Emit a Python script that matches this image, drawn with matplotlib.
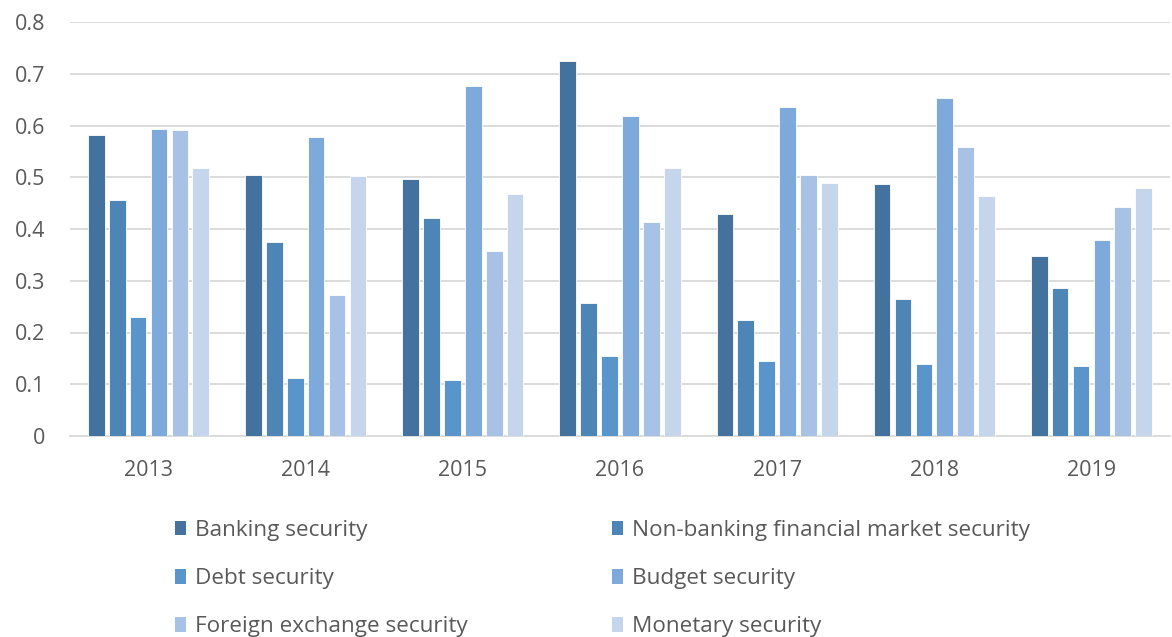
import matplotlib
matplotlib.use("Agg")
import matplotlib.pyplot as plt
import numpy as np
from matplotlib.patches import Patch

years = ["2013", "2014", "2015", "2016", "2017", "2018", "2019"]
series_names = ["Banking security", "Non-banking financial market security", "Debt security",
                "Budget security", "Foreign exchange security", "Monetary security"]
banking = [0.581, 0.504, 0.497, 0.725, 0.429, 0.487, 0.348]
non_banking = [0.457, 0.375, 0.421, 0.257, 0.224, 0.265, 0.286]
debt = [0.229, 0.112, 0.108, 0.155, 0.144, 0.139, 0.135]
budget = [0.594, 0.578, 0.676, 0.619, 0.635, 0.653, 0.379]
foreign_exchange = [0.591, 0.272, 0.357, 0.413, 0.504, 0.558, 0.443]
monetary = [0.517, 0.502, 0.468, 0.517, 0.489, 0.464, 0.479]
yticks = [0, 0.1, 0.2, 0.3, 0.4, 0.5, 0.6, 0.7, 0.8]
ytick_labels = ["0", "0.1", "0.2", "0.3", "0.4", "0.5", "0.6", "0.7", "0.8"]

series = [banking, non_banking, debt, budget, foreign_exchange, monetary]
colors = ["#43729E", "#4D85B7", "#5995CB", "#7DAADA", "#A7C2E4", "#C5D5EB"]
text_color = "#595959"
font = "Open Sans"

fig = plt.figure(figsize=(11.72, 6.37), dpi=100)
ax = fig.add_axes([70 / 1172, 201 / 637, 1100 / 1172, 414 / 637])

x = np.arange(len(years))
step = 0.133
width = 0.106
for i, (vals, c) in enumerate(zip(series, colors)):
    ax.bar(x + (i - 2.5) * step, vals, width=width, color=c, edgecolor="white",
           linewidth=0.6, zorder=3)

ax.set_xlim(-0.5, 6.5)
ax.set_ylim(0, 0.8)
ax.set_yticks(yticks)
ax.set_yticklabels(ytick_labels)
ax.set_xticks(x)
ax.set_xticklabels(years)
ax.grid(axis="y", color="#D9D9D9", linewidth=1.3, zorder=0)
ax.set_axisbelow(True)
for s in ["top", "right", "left"]:
    ax.spines[s].set_visible(False)
ax.spines["bottom"].set_color("#D9D9D9")
ax.spines["bottom"].set_linewidth(1.3)
ax.tick_params(axis="both", length=0, labelsize=15.5, labelcolor=text_color)
ax.tick_params(axis="x", pad=17)
ax.tick_params(axis="y", pad=18)
for lab in ax.get_xticklabels() + ax.get_yticklabels():
    lab.set_fontfamily(font)

handles = [Patch(facecolor=c, edgecolor="none") for c in colors]
leg_kw = dict(frameon=False, labelcolor=text_color, handlelength=0.5,
              handleheight=0.62, handletextpad=0.4, labelspacing=1.21,
              prop={"family": font, "size": 16.2}, borderaxespad=0, borderpad=0,
              loc="upper left")
fig.legend([handles[0], handles[2], handles[4]],
           [series_names[0], series_names[2], series_names[4]],
           bbox_to_anchor=(175 / 1172, 1 - 520 / 637), **leg_kw)
fig.legend([handles[1], handles[3], handles[5]],
           [series_names[1], series_names[3], series_names[5]],
           bbox_to_anchor=(612 / 1172, 1 - 520 / 637), **leg_kw)

fig.savefig("out.png", dpi=100)
